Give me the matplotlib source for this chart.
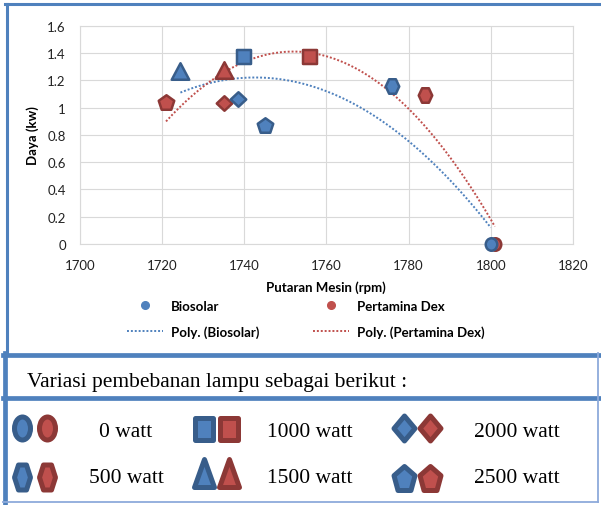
import numpy as np
import matplotlib
matplotlib.use('Agg')
import matplotlib.pyplot as plt
from matplotlib.path import Path
from matplotlib.transforms import Affine2D
from matplotlib.lines import Line2D

# data (one point per lamp load)
loads = ['0 watt', '500 watt', '1000 watt', '1500 watt', '2000 watt', '2500 watt']
rpm_bio = [1800, 1776, 1740, 1724.5, 1738.5, 1745]
kw_bio = [0.0, 1.16, 1.37, 1.27, 1.06, 0.87]
rpm_dex = [1801, 1784, 1756, 1735, 1735, 1721]
kw_dex = [0.0, 1.09, 1.37, 1.275, 1.03, 1.04]
x_ticks = [1700, 1720, 1740, 1760, 1780, 1800, 1820]
y_ticks = [0, 0.2, 0.4, 0.6, 0.8, 1.0, 1.2, 1.4, 1.6]

BLUE, BLUE_EDGE = '#4F81BD', '#385D8A'
RED, RED_EDGE = '#C0504D', '#8C3836'
FRAME = '#4F81BD'
W, H = 601, 506

plt.rcParams['font.family'] = ['Lato', 'DejaVu Sans']


def shape_path(kind, w, h):
    # polygon outlines scaled to the wanted aspect ratio
    if kind == 'oval':
        return Path.unit_circle().transformed(Affine2D().scale(w / 2, h / 2))
    if kind == 'hex':
        pts = [(-0.5, 0), (-0.25, 0.5), (0.25, 0.5), (0.5, 0), (0.25, -0.5), (-0.25, -0.5)]
    elif kind == 'square':
        pts = [(-0.5, -0.5), (0.5, -0.5), (0.5, 0.5), (-0.5, 0.5)]
    elif kind == 'tri':
        pts = [(-0.5, -0.5), (0.5, -0.5), (0, 0.5)]
    elif kind == 'diamond':
        pts = [(0, 0.5), (0.5, 0), (0, -0.5), (-0.5, 0)]
    else:  # pentagon
        a = np.deg2rad(90 + 72 * np.arange(5))
        xs, ys = np.cos(a), np.sin(a)
        ys = ys - (ys.max() + ys.min()) / 2
        pts = list(zip(xs / (xs.max() - xs.min()), ys / (ys.max() - ys.min())))
    pts = np.array(pts) * [w, h]
    return Path(np.vstack([pts, pts[:1]]), closed=True)


def marker(kind, w, h, mew):
    # w, h are outer pixel sizes incl. the edge; returns plot kwargs
    iw, ih = w - mew, h - mew
    return dict(marker=shape_path(kind, iw, ih), ms=max(iw, ih) * 0.72, mew=mew * 0.72)


shapes = ['oval', 'hex', 'square', 'tri', 'diamond', 'pent']
chart_size = {'oval': (14, 15), 'hex': (16, 17), 'square': (16, 16),
              'tri': (20, 19), 'diamond': (18, 17), 'pent': (18, 17)}
box_size = {'oval': (21, 28), 'hex': (21, 30), 'square': (23, 28),
            'tri': (25, 33), 'diamond': (26, 30), 'pent': (26, 29)}

fig = plt.figure(figsize=(W / 100, H / 100), dpi=100)
ax = fig.add_axes([79.7 / W, 1 - 245 / H, (573 - 79.7) / W, (245 - 26.7) / H])

# trendlines (2nd order polynomial like Excel)
for xs, ys, col in [(rpm_bio, kw_bio, BLUE), (rpm_dex, kw_dex, RED)]:
    c = np.polyfit(xs, ys, 2)
    xf = np.linspace(min(xs), max(xs), 200)
    ax.plot(xf, np.polyval(c, xf), ls=(0, (1, 1)), lw=1.4, color=col, zorder=2)

for xs, ys, fc, ec, z in [(rpm_dex, kw_dex, RED, RED_EDGE, 3), (rpm_bio, kw_bio, BLUE, BLUE_EDGE, 4)]:
    for x, y, s in zip(xs, ys, shapes):
        ax.plot([x], [y], ls='none', mfc=fc, mec=ec, zorder=z, clip_on=False,
                **marker(s, *chart_size[s], 2.5))

ax.set_xlim(1700, 1820)
ax.set_ylim(0, 1.6)
ax.set_xticks(x_ticks)
ax.set_yticks(y_ticks)
ax.yaxis.set_major_formatter(lambda v, p: f'{v:g}')
ax.grid(color='#D9D9D9', lw=0.8)
ax.set_axisbelow(True)
for sp in ax.spines.values():
    sp.set_color('#D9D9D9')
    sp.set_linewidth(0.8)
ax.tick_params(length=0, labelsize=9.5, colors='#222222', pad=10)
ax.tick_params(axis='x', pad=11)

ax.set_xlabel('Putaran Mesin (rpm)', fontsize=9.5, fontweight='bold', va='center')
ax.xaxis.set_label_coords(0.5, -(287.5 - 245) / 218.3)
ax.set_ylabel('Daya (kw)', fontsize=9.5, fontweight='bold', va='center')
ax.yaxis.set_label_coords((32.5 - 79.7) / 493.3, 0.5)

handles = [Line2D([], [], ls='none', marker='o', ms=5.5, mfc=BLUE, mec=BLUE),
           Line2D([], [], ls=(0, (1, 1)), lw=1.4, color=BLUE),
           Line2D([], [], ls='none', marker='o', ms=5.5, mfc=RED, mec=RED),
           Line2D([], [], ls=(0, (1, 1)), lw=1.4, color=RED)]
labels = ['Biosolar', 'Poly. (Biosolar)', 'Pertamina Dex', 'Poly. (Pertamina Dex)']
leg = ax.legend(handles, labels, ncol=2, loc='upper left',
                bbox_to_anchor=(127 / W, 1 - 301 / H), bbox_transform=fig.transFigure,
                frameon=False, borderpad=0, borderaxespad=0, handlelength=2.7,
                handletextpad=0.6, columnspacing=4.1, labelspacing=1.0,
                prop={'weight': 'bold', 'size': 9.5})

# frame lines and the load-variation key below the chart
lax = fig.add_axes([0, 0, 1, 1], facecolor='none')
lax.set_xlim(0, W)
lax.set_ylim(H, 0)
lax.axis('off')
lax.plot([5, W], [5, 5], color=FRAME, lw=2.2)
lax.plot([6.5, 6.5], [5, 355], color=FRAME, lw=2.2)
lax.plot([3, W], [355.5, 355.5], color=FRAME, lw=3.4)
lax.plot([3, W], [398.5, 398.5], color=FRAME, lw=3.4)
lax.plot([5, 5], [354, 504], color=FRAME, lw=3.4)
lax.plot([597.5, 597.5], [354, 503], color='#8EAADB', lw=1.3)
lax.plot([3, 598], [503, 503], color='#8EAADB', lw=1.3)

lax.text(27, 387, 'Variasi pembebanan lampu sebagai berikut :', family='Liberation Serif',
         fontsize=15.5, va='baseline')

text_x = [126, 309.5, 517]
blue_x = [22, 203.6, 404]
red_x = [46.7, 228.5, 430.2]
icon_y = {'oval': 429, 'hex': 478, 'square': 430, 'tri': 473.7, 'diamond': 428.5, 'pent': 479}
row_base = [437.3, 483.5]
for i, (label, s) in enumerate(zip(loads, shapes)):
    col, row = i // 2, i % 2
    for cx, fc, ec in [(blue_x[col], BLUE, BLUE_EDGE), (red_x[col], RED, RED_EDGE)]:
        lax.plot([cx], [icon_y[s]], ls='none', mfc=fc, mec=ec, **marker(s, *box_size[s], 5))
    lax.text(text_x[col], row_base[row], label, family='Liberation Serif',
             fontsize=15.5, ha='center', va='baseline')

fig.savefig('out.png', dpi=100)
